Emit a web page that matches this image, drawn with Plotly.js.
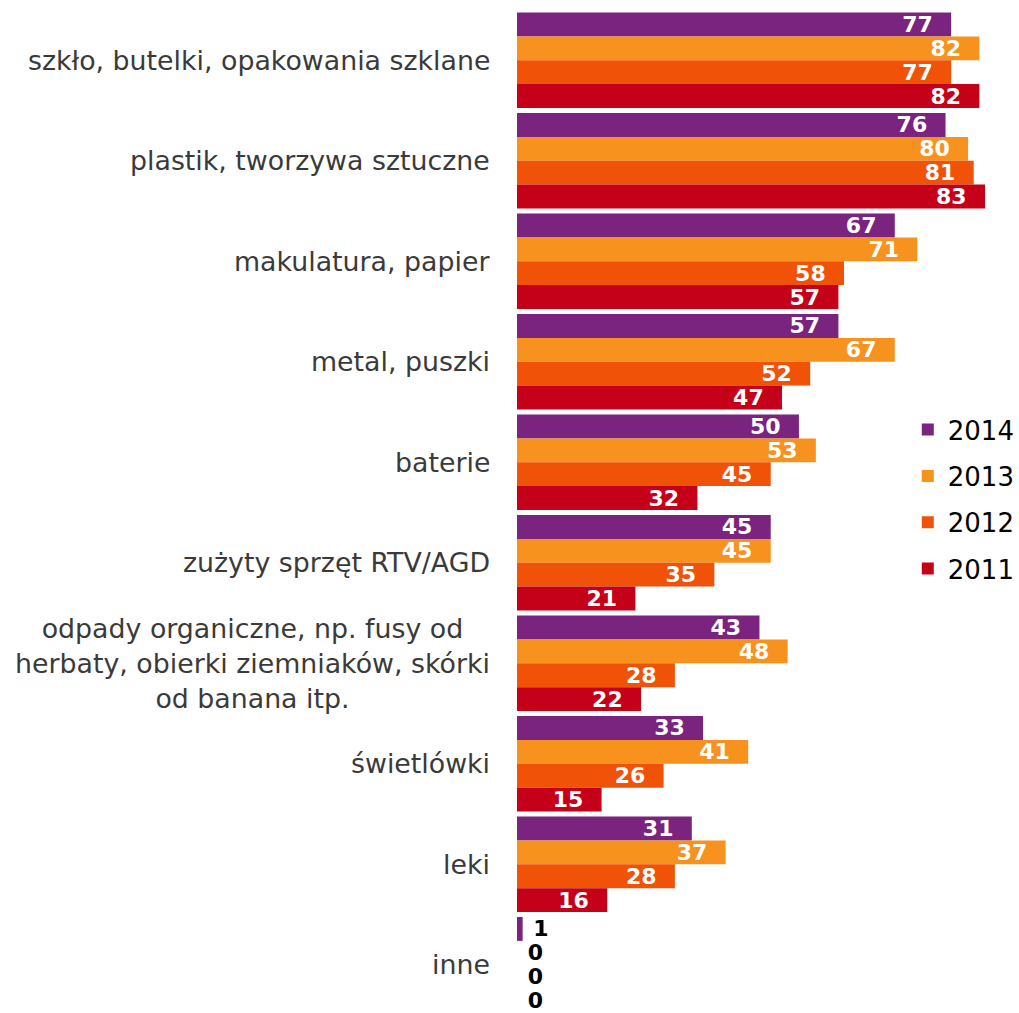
<!DOCTYPE html>
<html>
<head>
<meta charset="utf-8">
<script src="https://cdn.plot.ly/plotly-3.0.1.min.js"></script>
<style>html,body{margin:0;padding:0;background:#fff;}#chart{width:1019px;height:1013px;}</style>
</head>
<body>
<div id="chart"></div>
<script>
var categories = [
  "szkło, butelki, opakowania szklane",
  "plastik, tworzywa sztuczne",
  "makulatura, papier",
  "metal, puszki",
  "baterie",
  "zużyty sprzęt RTV/AGD",
  "odpady organiczne, np. fusy od<br>herbaty, obierki ziemniaków, skórki<br>od banana itp.",
  "świetlówki",
  "leki",
  "inne"
];
var years = ["2014", "2013", "2012", "2011"];
var v2014 = [77, 76, 67, 57, 50, 45, 43, 33, 31, 1];
var v2013 = [82, 80, 71, 67, 53, 45, 48, 41, 37, 0];
var v2012 = [77, 81, 58, 52, 45, 35, 28, 26, 28, 0];
var v2011 = [82, 83, 57, 47, 32, 21, 22, 15, 16, 0];
var colors = ["#7a237f", "#f7921e", "#f05207", "#c50019"];

var NB = "\u00A0";
var series = [v2014, v2013, v2012, v2011];
var traces = series.map(function (vals, i) {
  return {
    type: "bar",
    orientation: "h",
    name: years[i],
    legendgroup: years[i],
    y: categories,
    x: vals,
    marker: {color: colors[i], line: {width: 0}},
    text: vals.map(function (v) { return v > 5 ? v + NB + NB : NB + v; }),
    texttemplate: "%{text}",
    textposition: vals.map(function (v) { return v > 5 ? "inside" : "outside"; }),
    insidetextanchor: "end",
    constraintext: "none",
    cliponaxis: false,
    insidetextfont: {family: "DejaVu Sans", size: 22, color: "#ffffff", weight: "bold"},
    outsidetextfont: {family: "DejaVu Sans", size: 22, color: "#000000", weight: "bold"},
    hoverinfo: "skip"
  };
});

var annotations = categories.map(function (c) {
  return {
    xref: "paper", yref: "y",
    x: 0, y: c,
    xanchor: "right", yanchor: "middle",
    xshift: -25,
    text: c,
    align: "center",
    showarrow: false,
    font: {family: "DejaVu Sans", size: 26.8, color: "#3a3a3a"}
  };
});

var layout = {
  width: 1019,
  height: 1013,
  margin: {l: 517, r: 34, t: 10, b: 0, pad: 0, autoexpand: false},
  paper_bgcolor: "#ffffff",
  plot_bgcolor: "#ffffff",
  barmode: "group",
  bargap: 0.05,
  bargroupgap: 0,
  showlegend: true,
  legend: {
    x: 0.835, y: 0.605, xanchor: "left", yanchor: "top",
    font: {family: "DejaVu Sans", size: 26, color: "#000000"},
    tracegroupgap: 9.5,
    bgcolor: "rgba(0,0,0,0)"
  },
  xaxis: {
    range: [0, 83],
    showgrid: false, zeroline: false, showline: false,
    showticklabels: false, ticks: ""
  },
  yaxis: {
    type: "category",
    autorange: false,
    range: [9.48, -0.5],
    showgrid: false, zeroline: false, showline: false,
    showticklabels: false, ticks: ""
  },
  annotations: annotations
};

Plotly.newPlot("chart", traces, layout, {displayModeBar: false, staticPlot: true});
</script>
</body>
</html>
